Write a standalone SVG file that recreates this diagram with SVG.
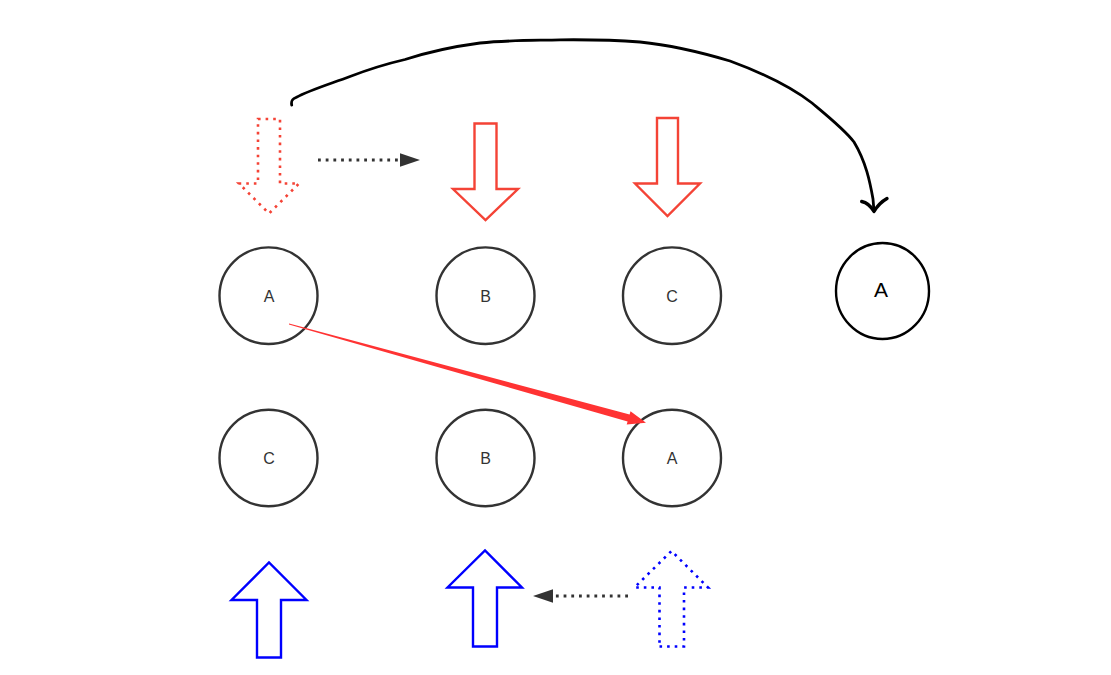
<svg xmlns="http://www.w3.org/2000/svg" width="1111" height="675" viewBox="0 0 1111 675">
<style>
.node ellipse{fill:#fff;stroke:#333;stroke-width:2.4}
.node text{font-family:"Liberation Sans","Noto Sans",sans-serif;font-size:16px;fill:#333;text-anchor:middle}
.red{fill:#fff;stroke:#f44336;stroke-width:2.4;stroke-linejoin:miter}
.blue{fill:#fff;stroke:#0000ff;stroke-width:2.4;stroke-linejoin:miter}
.dot{stroke-width:2.6;stroke-dasharray:2.6 5}
.dline{fill:none;stroke:#333;stroke-width:2.8;stroke-dasharray:2.8 4.9}
.head{fill:#333;stroke:none}
</style>
<rect width="1111" height="675" fill="#fff"/>
<g id="arrow-red-dotted">
<polygon class="red dot" points="258,119 280,119 280,183.5 299,183.5 269,213.5 239,183.5 258,183.5"/>
</g>
<g id="arrow-red-b">
<polygon class="red" points="474.5,123.5 496.5,123.5 496.5,189 518,189 485.5,220 453,189 474.5,189"/>
</g>
<g id="arrow-red-c">
<polygon class="red" points="657,118 678,118 678,183.5 700,183.5 667.5,216 635,183.5 657,183.5"/>
</g>
<g id="node-a1" class="node"><ellipse cx="268.5" cy="295.7" rx="49" ry="48.3"/><text x="269" y="302">A</text></g>
<g id="node-b1" class="node"><ellipse cx="485.5" cy="295.7" rx="49" ry="48.3"/><text x="485.5" y="302">B</text></g>
<g id="node-c1" class="node"><ellipse cx="672" cy="295.7" rx="49" ry="48.3"/><text x="672" y="302">C</text></g>
<g id="node-c2" class="node"><ellipse cx="268.5" cy="458" rx="49" ry="48.3"/><text x="269" y="464">C</text></g>
<g id="node-b2" class="node"><ellipse cx="485.5" cy="458" rx="49" ry="48.3"/><text x="485.5" y="464">B</text></g>
<g id="node-a2" class="node"><ellipse cx="672" cy="458" rx="49" ry="48.3"/><text x="672" y="464">A</text></g>
<g id="node-a3"><ellipse cx="882.5" cy="291" rx="46.5" ry="48" fill="#fff" stroke="#000" stroke-width="2.4"/><text x="881" y="297" font-family="'Liberation Sans','Noto Sans',sans-serif" font-size="21" fill="#000" text-anchor="middle">A</text></g>
<g id="arrow-blue-1">
<polygon class="blue" points="257,657.5 281,657.5 281,600 306.5,600 269,562.5 231.5,600 257,600"/>
</g>
<g id="arrow-blue-2">
<polygon class="blue" points="473,646.5 497,646.5 497,587.5 522,587.5 485,550.5 447.5,587.5 473,587.5"/>
</g>
<g id="arrow-blue-dotted">
<polygon class="blue dot" points="659.5,646.5 684,646.5 684,587.5 708,587.5 671.5,551 634.5,587.5 659.5,587.5"/>
</g>
<g id="connectors">
<line class="dline" x1="318" y1="160" x2="400" y2="160"/>
<polygon class="head" points="400,153.3 420,160 400,166.7"/>
<line class="dline" x1="628" y1="596" x2="553" y2="596"/>
<polygon class="head" points="553,589.3 533,596 553,602.7"/>
<polygon fill="#ff3333" points="289.1,323.6 629.6,414.4 630.5,411.2 646,422.7 626.7,424.6 627.6,421.4 288.9,324.6"/>
<path d="M291.7,105 C291,101 292,99 296,97.5 C310,90 330,84 350,76.5 C372,68 390,63 405,59.5 C425,53 450,47 480,43 C510,40 535,40.5 560,39.8 C590,39.5 615,40 640,42 C670,45 700,52 730,61 C760,72 790,86 812,103 C830,118 845,130 854,142 C866,162 870,182 873,199 L874,211" fill="none" stroke="#000" stroke-width="2.8" stroke-linecap="round" stroke-linejoin="round"/>
<path d="M861.7,201.5 Q869,203 874,211.5 Q879,203 887,198.5" fill="none" stroke="#000" stroke-width="3.4" stroke-linecap="round" stroke-linejoin="round"/>
</g>
</svg>
